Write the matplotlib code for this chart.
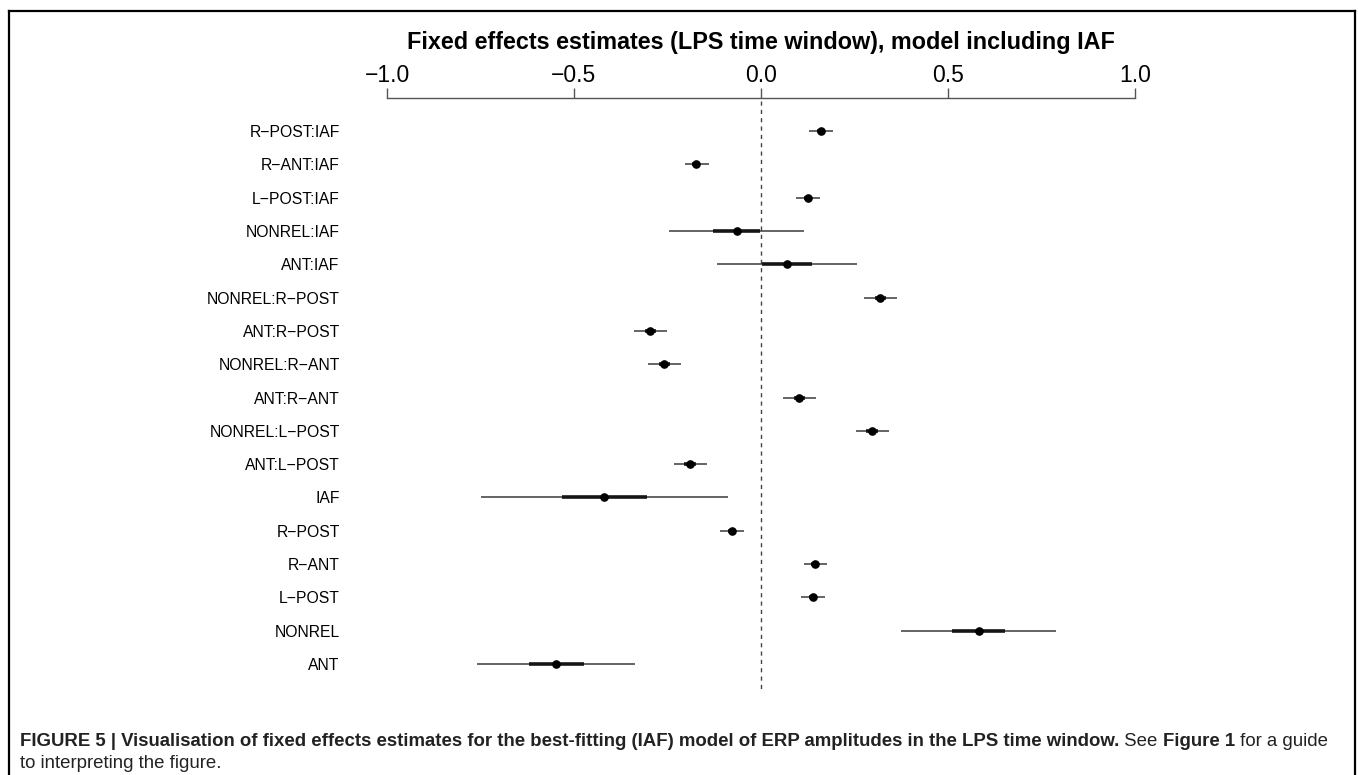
import matplotlib
matplotlib.use('Agg')
import matplotlib.pyplot as plt
from matplotlib.lines import Line2D

plt.rcParams['font.family'] = ['Liberation Sans', 'DejaVu Sans']

# coefficient names, top to bottom
terms = ['R−POST:IAF', 'R−ANT:IAF', 'L−POST:IAF', 'NONREL:IAF', 'ANT:IAF',
         'NONREL:R−POST', 'ANT:R−POST', 'NONREL:R−ANT', 'ANT:R−ANT',
         'NONREL:L−POST', 'ANT:L−POST', 'IAF', 'R−POST', 'R−ANT', 'L−POST',
         'NONREL', 'ANT']

estimate = [0.160, -0.173, 0.126, -0.064, 0.070, 0.319, -0.296, -0.259, 0.102,
            0.297, -0.190, -0.420, -0.078, 0.145, 0.139, 0.582, -0.547]

# outer (thin) interval
lo_thin = [0.128, -0.203, 0.094, -0.246, -0.118, 0.275, -0.340, -0.302, 0.059,
           0.254, -0.233, -0.748, -0.110, 0.114, 0.107, 0.375, -0.759]
hi_thin = [0.192, -0.140, 0.158, 0.115, 0.257, 0.364, -0.251, -0.214, 0.147,
           0.343, -0.144, -0.089, -0.046, 0.177, 0.170, 0.789, -0.336]

# inner (thick) interval
lo_thick = [0.149, -0.184, 0.115, -0.128, 0.003, 0.304, -0.311, -0.274, 0.087,
            0.282, -0.205, -0.533, -0.089, 0.134, 0.128, 0.510, -0.620]
hi_thick = [0.171, -0.162, 0.137, -0.003, 0.136, 0.334, -0.281, -0.244, 0.117,
            0.312, -0.175, -0.305, -0.067, 0.156, 0.150, 0.653, -0.473]

W, H = 1358, 775
fig = plt.figure(figsize=(W / 100, H / 100), dpi=100)

# axes placed so x=-1..1 spans the drawn axis line
ax = fig.add_axes([387 / W, (H - 700) / H, (1135 - 387) / W, (700 - 98) / H])
ax.set_xlim(-1, 1)
ax.set_ylim(17.08, -0.99)

rows = list(range(len(terms)))
ax.plot([0, 0], [-0.9, 16.75], color='#444444', lw=1, ls=(0, (3, 3)), zorder=1)
ax.hlines(rows, lo_thin, hi_thin, color='#3a3a3a', lw=1.1, zorder=2)
ax.hlines(rows, lo_thick, hi_thick, color='#151515', lw=2.6, zorder=3)
ax.plot(estimate, rows, 'o', color='black', ms=5.2, zorder=4)

for s in ['left', 'right', 'bottom']:
    ax.spines[s].set_visible(False)
ax.spines['top'].set_bounds(-1, 1)
ax.spines['top'].set_color('#555555')
ax.spines['top'].set_linewidth(1)

ax.xaxis.tick_top()
ax.set_xticks([-1.0, -0.5, 0.0, 0.5, 1.0])
ax.set_xticklabels(['−1.0', '−0.5', '0.0', '0.5', '1.0'])
ax.tick_params(axis='x', direction='out', length=7, width=1, color='#555555',
               labelsize=16.5, pad=1)

ax.set_yticks(rows)
ax.set_yticklabels(terms)
ax.tick_params(axis='y', left=False, labelsize=11.3, pad=30.5)

fig.text(761 / W, (H - 42) / H, 'Fixed effects estimates (LPS time window), model including IAF',
         ha='center', va='center', fontsize=16.8, fontweight='bold')

# outer frame (open at the bottom)
frame_kw = dict(color='black', lw=1.6, transform=fig.transFigure)
fig.add_artist(Line2D([9 / W, 9 / W], [0, (H - 11) / H], **frame_kw))
fig.add_artist(Line2D([1355 / W, 1355 / W], [0, (H - 11) / H], **frame_kw))
fig.add_artist(Line2D([9 / W, 1355 / W], [(H - 11) / H, (H - 11) / H], **frame_kw))

# caption with mixed weights
pieces = [('FIGURE 5 | Visualisation of fixed effects estimates for the best-fitting (IAF) model of ERP amplitudes in the LPS time window.', 'bold'),
          (' See ', 'normal'), ('Figure 1', 'bold'), (' for a guide', 'normal')]
fig.canvas.draw()
renderer = fig.canvas.get_renderer()
x = 20
for txt, wt in pieces:
    t = fig.text(x / W, (H - 741) / H, txt, ha='left', va='center', fontsize=13.4,
                 fontweight=wt, color='#222222')
    x = t.get_window_extent(renderer).x1
fig.text(20 / W, (H - 764) / H, 'to interpreting the figure.', ha='left', va='center',
         fontsize=13.4, color='#222222')

fig.savefig('out.png', dpi=100)
